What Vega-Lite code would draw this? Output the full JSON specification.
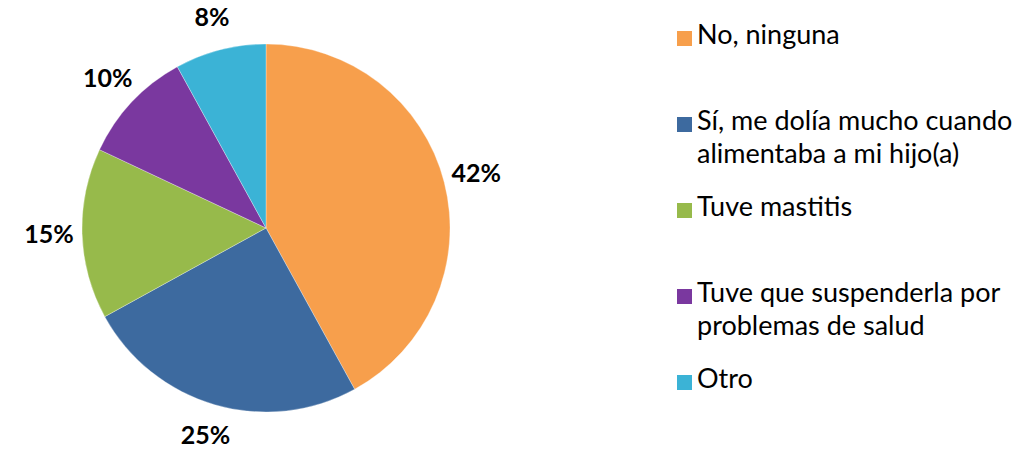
{
  "$schema": "https://vega.github.io/schema/vega-lite/v6.json",
  "width": 532,
  "height": 456,
  "padding": 0,
  "autosize": {"type": "pad"},
  "background": "white",
  "config": {
    "view": {"stroke": null},
    "style": {"guide-label": {"lineHeight": 33}}
  },
  "data": {
    "values": [
      {"categoria": "No, ninguna", "porcentaje": 42, "orden": 1, "etiqueta": "42%"},
      {"categoria": "Sí, me dolía mucho cuando\nalimentaba a mi hijo(a)", "porcentaje": 25, "orden": 2, "etiqueta": "25%"},
      {"categoria": "Tuve mastitis", "porcentaje": 15, "orden": 3, "etiqueta": "15%"},
      {"categoria": "Tuve que suspenderla por\nproblemas de salud", "porcentaje": 10, "orden": 4, "etiqueta": "10%"},
      {"categoria": "Otro", "porcentaje": 8, "orden": 5, "etiqueta": "8%"}
    ]
  },
  "encoding": {
    "theta": {"field": "porcentaje", "type": "quantitative", "stack": true},
    "order": {"field": "orden", "type": "quantitative"}
  },
  "layer": [
    {
      "mark": {"type": "arc", "outerRadius": 184, "stroke": "#ffffff", "strokeOpacity": 0.3, "strokeWidth": 1},
      "encoding": {
        "color": {
          "field": "categoria",
          "type": "nominal",
          "sort": null,
          "scale": {
            "domain": ["No, ninguna", "Sí, me dolía mucho cuando\nalimentaba a mi hijo(a)", "Tuve mastitis", "Tuve que suspenderla por\nproblemas de salud", "Otro"],
            "range": ["#F79F4C", "#3D6A9F", "#97BA4B", "#7A389F", "#3BB3D6"]
          },
          "legend": {
            "title": null,
            "orient": "none",
            "legendX": 671,
            "legendY": 9,
            "padding": 0,
            "symbolType": "M-1,1.13L1,1.13L1,3.13L-1,3.13Z",
            "symbolSize": 225,
            "symbolStrokeWidth": 0,
            "labelFont": "Lato",
            "labelFontSize": 27,
            "labelColor": "#000000",
            "labelBaseline": "top",
            "labelOffset": -1,
            "labelLimit": 400,
            "rowPadding": 13,
            "gridAlign": "all",
            "labelExpr": "split(datum.label, '\\n')"
          }
        }
      }
    },
    {
      "mark": {"type": "text", "radius": 217, "font": "Lato", "fontSize": 25, "fontWeight": "bold", "color": "#000000", "align": "center", "baseline": "middle"},
      "encoding": {
        "text": {"field": "etiqueta", "type": "nominal"}
      }
    }
  ]
}
